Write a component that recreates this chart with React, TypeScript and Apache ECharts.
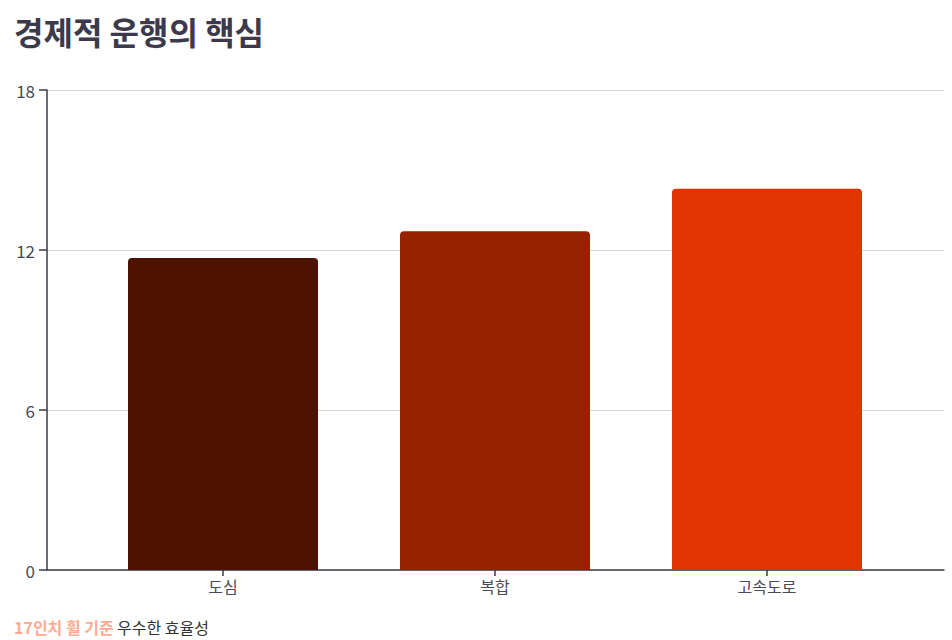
import { useEffect, useRef } from "react";
import * as echarts from "echarts";

const categories = ["도심", "복합", "고속도로"];
const efficiency = [11.7, 12.7, 14.3];
const barColors = ["#4e1300", "#982200", "#e23400"];
const yTicks = { min: 0, max: 18, interval: 6 };

const TITLE = "경제적 운행의 핵심";
const NOTE_HIGHLIGHT = "17인치 휠 기준";
const NOTE_REST = "우수한 효율성";

const FONT = "'Noto Sans CJK KR', 'Noto Sans', sans-serif";
const AXIS_COLOR = "#3b3a4c";

function buildOption(): echarts.EChartsOption {
  return {
    animation: false,
    textStyle: { fontFamily: FONT },
    title: {
      text: TITLE,
      left: 9,
      top: 10,
      textStyle: { fontSize: 32, fontWeight: "bold", color: AXIS_COLOR, fontFamily: FONT },
    },
    // 축선/그리드용 grid 0, 막대용 grid 1 (양옆 여백 있는 band)
    grid: [
      { left: 47, right: 8, top: 90, bottom: 70 },
      { left: 87, right: 49, top: 90, bottom: 70 },
    ],
    xAxis: [
      {
        type: "value",
        gridIndex: 0,
        min: 0,
        max: 1,
        axisLine: { show: true, onZero: false, lineStyle: { color: AXIS_COLOR, width: 1.5 } },
        axisTick: { show: false },
        axisLabel: { show: false },
        splitLine: { show: false },
      },
      {
        type: "category",
        gridIndex: 1,
        data: categories,
        axisLine: { show: false },
        axisTick: { show: true, alignWithLabel: true, length: 6, lineStyle: { color: AXIS_COLOR, width: 1.5 } },
        axisLabel: { color: "#4a4a55", fontSize: 16, margin: 8, fontFamily: FONT },
      },
    ],
    yAxis: [
      {
        type: "value",
        gridIndex: 0,
        ...yTicks,
        axisLine: { show: true, lineStyle: { color: AXIS_COLOR, width: 1.5 } },
        axisTick: { show: true, length: 8, lineStyle: { color: AXIS_COLOR, width: 1.5 } },
        axisLabel: { color: "#4a4a55", fontSize: 17, margin: 12, fontFamily: FONT },
        splitLine: { show: true, lineStyle: { color: "#d8d8dc", width: 1 } },
      },
      {
        type: "value",
        gridIndex: 1,
        ...yTicks,
        show: false,
      },
    ],
    series: [
      {
        type: "bar",
        xAxisIndex: 1,
        yAxisIndex: 1,
        barWidth: 190,
        data: efficiency.map((v, i) => ({
          value: v,
          itemStyle: { color: barColors[i], borderRadius: [4, 4, 0, 0] },
        })),
      },
    ],
    graphic: [
      {
        type: "text",
        left: 14,
        top: 619,
        style: {
          text: `{a|${NOTE_HIGHLIGHT}} {b|${NOTE_REST}}`,
          rich: {
            a: { fill: "#ffab91", fontSize: 16, fontWeight: "bold", fontFamily: FONT },
            b: { fill: "#333", fontSize: 16, fontFamily: FONT },
          },
        } as any,
      },
    ],
  };
}

export default function App() {
  const ref = useRef<HTMLDivElement | null>(null);

  useEffect(() => {
    const el = ref.current;
    if (!el) return;
    const chart = echarts.init(el, undefined, { renderer: "svg" });
    chart.setOption(buildOption());
    return () => {
      chart.dispose();
    };
  }, []);

  return (
    <div
      ref={ref}
      style={{ position: "fixed", left: 0, top: 0, width: 952, height: 640, background: "#fff" }}
    />
  );
}
